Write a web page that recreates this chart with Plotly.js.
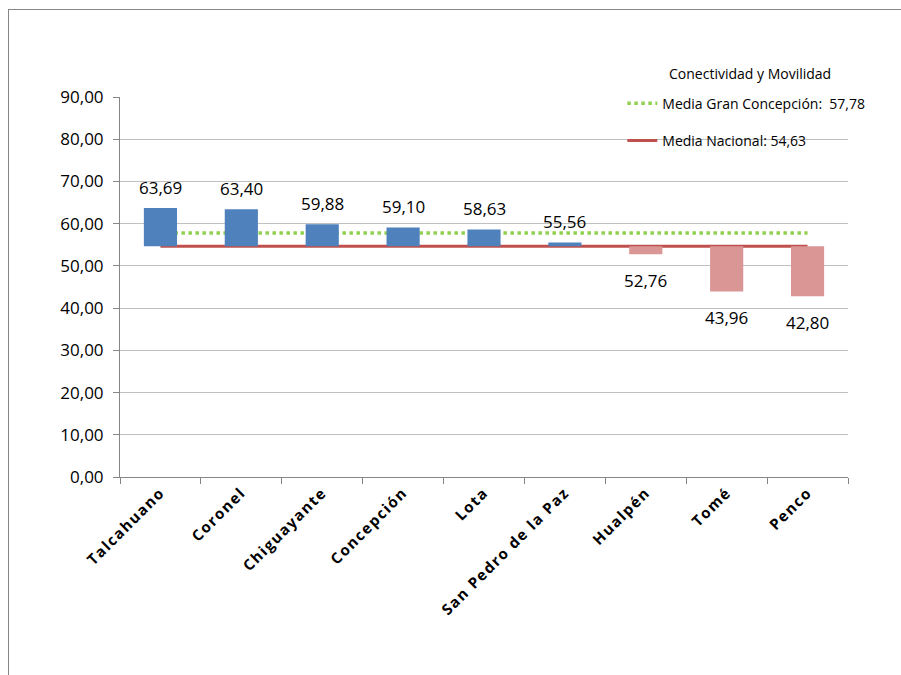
<!DOCTYPE html>
<html>
<head>
<meta charset="utf-8">
<script src="https://cdn.plot.ly/plotly-3.0.1.min.js"></script>
<style>
html,body{margin:0;padding:0;background:#fff;overflow:hidden;}
#wrap{position:relative;width:901px;height:675px;overflow:hidden;}
#chart{width:901px;height:675px;}
#frame{position:absolute;left:8px;top:9px;width:1200px;height:1200px;border-left:1px solid #868686;border-top:1px solid #868686;pointer-events:none;}
#chart .xtick text{letter-spacing:1.5px;}
</style>
</head>
<body>
<div id="wrap"><div id="chart"></div><div id="frame"></div></div>
<script>
const comunas = ["Talcahuano","Coronel","Chiguayante","Concepción","Lota","San Pedro de la Paz","Hualpén","Tomé","Penco"];
const valores = [63.69, 63.40, 59.88, 59.10, 58.63, 55.56, 52.76, 43.96, 42.80];
const mediaNacional = 54.63;
const mediaGranConcepcion = 57.78;
const legendTitle = "Conectividad y Movilidad";
const yTicks = [0,10,20,30,40,50,60,70,80,90];

const fmt = v => v.toFixed(2).replace('.', ',');

const colorUp = '#4f81bd', colorDown = '#d99694';
const FONT = 'Open Sans, sans-serif';

const bars = {
  type: 'bar',
  x: comunas,
  y: valores.map(v => v - mediaNacional),
  base: comunas.map(() => mediaNacional),
  marker: {color: valores.map(v => v >= mediaNacional ? colorUp : colorDown)},
  width: 0.41,
  showlegend: false,
  hoverinfo: 'skip'
};

const annotations = valores.map((v, i) => ({
  x: comunas[i], y: v, xref: 'x', yref: 'y',
  text: fmt(v), showarrow: false, xanchor: 'center', yanchor: 'middle',
  yshift: v >= mediaNacional ? 21 : -26,
  font: {family: FONT, size: 17, color: '#000'}
}));
annotations.push({
  xref: 'paper', yref: 'paper', x: 0.752, y: 1.063, xanchor: 'left', yanchor: 'middle',
  text: legendTitle, showarrow: false,
  font: {family: FONT, size: 14, color: '#000'}
});

const shapes = [
  {type: 'line', layer: 'below', xref: 'x', yref: 'y',
   x0: comunas[0], x1: comunas[comunas.length-1], y0: mediaGranConcepcion, y1: mediaGranConcepcion,
   line: {color: '#92d050', width: 3.5, dash: 'dot'},
   showlegend: true, name: 'Media Gran Concepción:  ' + fmt(mediaGranConcepcion), legendrank: 1, legendgroup: 'g1'},
  {type: 'line', layer: 'below', xref: 'x', yref: 'y',
   x0: comunas[0], x1: comunas[comunas.length-1], y0: mediaNacional, y1: mediaNacional,
   line: {color: '#c0504d', width: 3},
   showlegend: true, name: 'Media Nacional: ' + fmt(mediaNacional), legendrank: 2, legendgroup: 'g2'}
];

const layout = {
  width: 901, height: 675,
  margin: {l: 120, r: 53, t: 97, b: 198},
  paper_bgcolor: 'rgba(0,0,0,0)', plot_bgcolor: 'rgba(0,0,0,0)',
  separators: ',.',
  font: {family: FONT, color: '#000'},
  xaxis: {
    type: 'category', tickson: 'boundaries', ticks: 'outside', ticklen: 6, tickcolor: '#868686',
    showline: true, linecolor: '#868686', linewidth: 1, showgrid: false,
    tickangle: -45, tickfont: {family: FONT, size: 15, weight: 'bold', color: '#000'},
    range: [-0.5, comunas.length - 0.5], fixedrange: true
  },
  yaxis: {
    range: [0, 90], tickvals: yTicks, ticktext: yTicks.map(fmt),
    ticks: 'outside', ticklen: 6, tickcolor: '#868686', ticklabelstandoff: 6,
    showline: true, linecolor: '#868686', linewidth: 1,
    showgrid: true, gridcolor: '#c0c0c0', gridwidth: 1, zeroline: false,
    tickfont: {family: FONT, size: 17, color: '#000'}, fixedrange: true
  },
  legend: {
    x: 0.69, y: 0.934, xanchor: 'left', yanchor: 'middle',
    bgcolor: 'rgba(0,0,0,0)', tracegroupgap: 16, traceorder: 'grouped',
    font: {family: FONT, size: 14, color: '#000'}
  },
  showlegend: true,
  annotations: annotations,
  shapes: shapes
};

Plotly.newPlot('chart', [bars], layout, {displayModeBar: false, staticPlot: true});
</script>
</body>
</html>
